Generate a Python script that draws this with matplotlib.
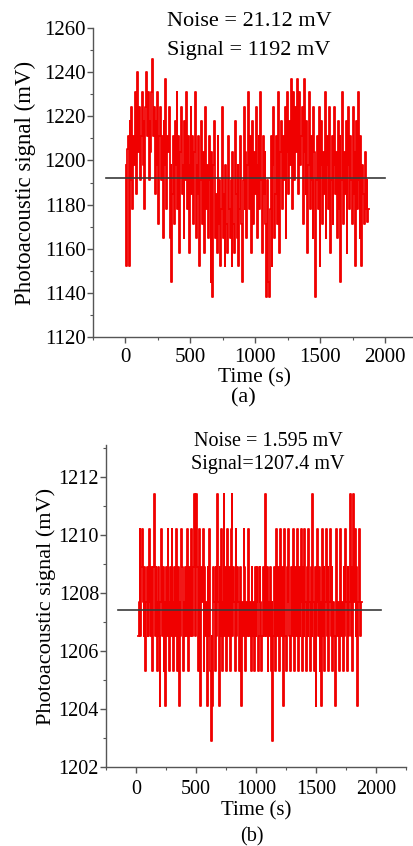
import numpy as np
import matplotlib
matplotlib.use("Agg")
import matplotlib.pyplot as plt
from matplotlib.ticker import MultipleLocator

plt.rcParams['font.family'] = ['Liberation Serif', 'DejaVu Serif']

# ---------------- data (a) ----------------
t_start_a, t_end_a = 5, 1875
signal_a = [
    1198, 1152, 1205, 1211, 1152, 1218, 1191, 1224, 1178, 1211, 1198, 1231, 1185, 1218, 1240, 1204, 1224, 1191, 1211, 1231,
    1198, 1218, 1178, 1224, 1240, 1211, 1231, 1191, 1218, 1204, 1231, 1246, 1211, 1224, 1185, 1218, 1198, 1231, 1171, 1211,
    1224, 1191, 1211, 1165, 1218, 1198, 1237, 1178, 1211, 1204, 1224, 1165, 1198, 1145, 1185, 1211, 1171, 1218, 1198, 1231,
    1178, 1211, 1158, 1204, 1224, 1185, 1198, 1165, 1218, 1191, 1231, 1178, 1211, 1158, 1198, 1224, 1185, 1211, 1171, 1204,
    1231, 1165, 1198, 1185, 1211, 1152, 1191, 1218, 1171, 1204, 1158, 1185, 1224, 1178, 1198, 1165, 1211, 1191, 1145, 1204,
    1138, 1198, 1218, 1165, 1185, 1158, 1211, 1171, 1191, 1152, 1178, 1224, 1165, 1185, 1152, 1198, 1171, 1158, 1211, 1178,
    1165, 1191, 1152, 1204, 1171, 1158, 1218, 1185, 1165, 1198, 1152, 1178, 1211, 1171, 1145, 1191, 1224, 1178, 1204, 1165,
    1198, 1231, 1178, 1211, 1158, 1191, 1218, 1171, 1204, 1185, 1224, 1165, 1198, 1211, 1178, 1231, 1191, 1158, 1211, 1185,
    1204, 1171, 1138, 1191, 1145, 1138, 1178, 1211, 1152, 1198, 1224, 1165, 1185, 1211, 1171, 1231, 1191, 1158, 1204, 1218,
    1178, 1211, 1191, 1224, 1165, 1204, 1231, 1185, 1218, 1198, 1237, 1178, 1211, 1231, 1191, 1224, 1204, 1237, 1185, 1218,
    1231, 1198, 1211, 1224, 1171, 1237, 1204, 1185, 1218, 1158, 1198, 1231, 1178, 1211, 1191, 1165, 1224, 1204, 1138, 1191,
    1211, 1178, 1224, 1152, 1198, 1218, 1171, 1204, 1185, 1231, 1165, 1198, 1211, 1178, 1224, 1158, 1191, 1211, 1171, 1198,
    1224, 1185, 1204, 1165, 1218, 1178, 1211, 1145, 1191, 1231, 1171, 1204, 1185, 1218, 1158, 1198, 1224, 1178, 1211, 1191,
    1171, 1224, 1185, 1204, 1152, 1218, 1178, 1231, 1191, 1165, 1211, 1152, 1198, 1185, 1171, 1204, 1178, 1191, 1172, 1178,
]
mean_a = 1192
mean_span_a = [-150, 2000]
noise_a_text = "Noise = 21.12 mV"
signal_a_text = "Signal = 1192 mV"

# ---------------- data (b) ----------------
t_start_b, t_end_b = 20, 1880
signal_b = [
    1206.5, 1207.7, 1210.2, 1206.5, 1208.9, 1210.2, 1207.7, 1206.5, 1208.9, 1205.3, 1207.7, 1208.9, 1206.5, 1207.7, 1210.2, 1206.5, 1208.9, 1207.7, 1205.3, 1208.9,
    1211.4, 1206.5, 1208.9, 1207.7, 1205.3, 1208.9, 1206.5, 1204.1, 1207.7, 1210.2, 1206.5, 1208.9, 1205.3, 1207.7, 1204.1, 1208.9, 1206.5, 1210.2, 1207.7, 1205.3,
    1208.9, 1206.5, 1210.2, 1207.7, 1205.3, 1208.9, 1206.5, 1207.7, 1210.2, 1205.3, 1208.9, 1204.1, 1207.7, 1206.5, 1210.2, 1208.9, 1205.3, 1207.7, 1206.5, 1208.9,
    1206.5, 1210.2, 1207.7, 1205.3, 1208.9, 1206.5, 1210.2, 1207.7, 1206.5, 1208.9, 1211.4, 1206.5, 1207.7, 1211.4, 1208.9, 1205.3, 1210.2, 1206.5, 1204.1, 1208.9,
    1207.7, 1210.2, 1205.3, 1208.9, 1206.5, 1207.7, 1204.1, 1208.9, 1206.5, 1210.2, 1205.3, 1202.9, 1206.5, 1204.1, 1208.9, 1207.7, 1205.3, 1208.9, 1206.5, 1211.4,
    1207.7, 1204.1, 1208.9, 1206.5, 1210.2, 1205.3, 1207.7, 1211.4, 1206.5, 1208.9, 1205.3, 1210.2, 1207.7, 1206.5, 1208.9, 1205.3, 1210.2, 1211.4, 1206.5, 1208.9,
    1207.7, 1205.3, 1210.2, 1206.5, 1208.9, 1207.7, 1205.3, 1206.5, 1208.9, 1204.1, 1207.7, 1206.5, 1210.2, 1208.9, 1205.3, 1207.7, 1206.5, 1208.9, 1210.2, 1206.5,
    1207.7, 1205.3, 1208.9, 1206.5, 1207.7, 1205.3, 1208.9, 1206.5, 1207.7, 1208.9, 1205.3, 1206.5, 1208.9, 1207.7, 1205.3, 1206.5, 1208.9, 1207.7, 1206.5, 1211.4,
    1206.5, 1208.9, 1205.3, 1207.7, 1206.5, 1208.9, 1205.3, 1207.7, 1202.9, 1206.5, 1208.9, 1205.3, 1207.7, 1210.2, 1206.5, 1208.9, 1205.3, 1207.7, 1210.2, 1206.5,
    1208.9, 1204.1, 1207.7, 1210.2, 1206.5, 1205.3, 1208.9, 1207.7, 1210.2, 1206.5, 1205.3, 1208.9, 1207.7, 1206.5, 1210.2, 1205.3, 1208.9, 1207.7, 1206.5, 1210.2,
    1205.3, 1208.9, 1206.5, 1207.7, 1210.2, 1205.3, 1208.9, 1206.5, 1210.2, 1207.7, 1205.3, 1208.9, 1206.5, 1210.2, 1207.7, 1205.3, 1208.9, 1206.5, 1211.4, 1207.7,
    1205.3, 1208.9, 1204.1, 1207.7, 1210.2, 1206.5, 1208.9, 1205.3, 1207.7, 1204.1, 1210.2, 1206.5, 1208.9, 1205.3, 1207.7, 1210.2, 1206.5, 1208.9, 1205.3, 1207.7,
    1210.2, 1206.5, 1208.9, 1205.3, 1207.7, 1206.5, 1204.1, 1208.9, 1210.2, 1206.5, 1207.7, 1205.3, 1208.9, 1210.2, 1206.5, 1207.7, 1205.3, 1208.9, 1206.5, 1210.2,
    1207.7, 1205.3, 1208.9, 1206.5, 1207.7, 1211.4, 1206.5, 1208.9, 1205.3, 1211.4, 1207.7, 1210.2, 1206.5, 1208.9, 1204.1, 1207.7, 1210.2, 1208.9, 1206.5, 1207.7,
]
mean_b = 1207.4
mean_span_b = [-150, 2040]
noise_b_text = "Noise = 1.595 mV"
signal_b_text = "Signal=1207.4 mV"

x_ticks = [0, 500, 1000, 1500, 2000]
y_ticks_a = [1120, 1140, 1160, 1180, 1200, 1220, 1240, 1260]
y_ticks_b = [1202, 1204, 1206, 1208, 1210, 1212]

W, H = 413, 846
fig = plt.figure(figsize=(W / 100, H / 100), dpi=100)

def px_axes(l, t, r, b):
    return fig.add_axes([l / W, 1 - b / H, (r - l) / W, (b - t) / H])

ax1 = px_axes(92.5, 28, 417.5, 337)
ax2 = px_axes(106, 445, 406, 767)

spine_col = '#555555'
line_col = '#f00000'

def style(ax, fs, pad):
    for s in ['top', 'right']:
        ax.spines[s].set_visible(False)
    for s in ['left', 'bottom']:
        ax.spines[s].set_color(spine_col)
        ax.spines[s].set_linewidth(1.0)
    ax.tick_params(which='major', direction='out', length=4, width=1.0, color=spine_col,
                   labelsize=fs, pad=1)
    ax.tick_params(axis='x', which='major', pad=pad)
    ax.tick_params(which='minor', direction='out', length=2.5, width=0.8, color=spine_col)
    ax.set_xlim(-250, 2250)
    ax.set_xticks(x_ticks)
    ax.xaxis.set_minor_locator(MultipleLocator(250))

# panel (a)
ta = np.linspace(t_start_a, t_end_a, len(signal_a))
ax1.plot(ta, signal_a, color=line_col, lw=1.3, drawstyle='steps-mid', zorder=2)
ax1.plot(mean_span_a, [mean_a, mean_a], color='#3a3a3a', lw=1.2, zorder=3)
ax1.set_ylim(1120, 1260)
ax1.set_yticks(y_ticks_a)
ax1.yaxis.set_minor_locator(MultipleLocator(10))
style(ax1, 15, 4)
ax1.set_xlabel("Time (s)", fontsize=15.5, labelpad=1)
ax1.set_ylabel("Photoacoustic signal (mV)", fontsize=16.5, labelpad=6)
fig.text(167 / W, 1 - 21 / H, noise_a_text, fontsize=16, ha='left', va='center')
fig.text(167 / W, 1 - 51 / H, signal_a_text, fontsize=16, ha='left', va='center')
fig.text(243 / W, 1 - 398 / H, "(a)", fontsize=16, ha='center', va='center')

# panel (b)
tb = np.linspace(t_start_b, t_end_b, len(signal_b))
ax2.plot(tb, signal_b, color=line_col, lw=1.3, drawstyle='steps-mid', zorder=2)
ax2.plot(mean_span_b, [mean_b, mean_b], color='#3a3a3a', lw=1.2, zorder=3)
ax2.set_ylim(1202, 1213.1)
ax2.set_yticks(y_ticks_b)
ax2.yaxis.set_minor_locator(MultipleLocator(1))
style(ax2, 14.5, 5)
ax2.set_xlabel("Time (s)", fontsize=15, labelpad=2)
ax2.set_ylabel("Photoacoustic signal (mV)", fontsize=16, labelpad=2)
fig.text(268 / W, 1 - 441 / H, noise_b_text, fontsize=14.5, ha='center', va='center')
fig.text(268 / W, 1 - 464 / H, signal_b_text, fontsize=14.5, ha='center', va='center')
fig.text(252 / W, 1 - 837 / H, "(b)", fontsize=14.5, ha='center', va='center')

fig.savefig("out.png", dpi=100)
